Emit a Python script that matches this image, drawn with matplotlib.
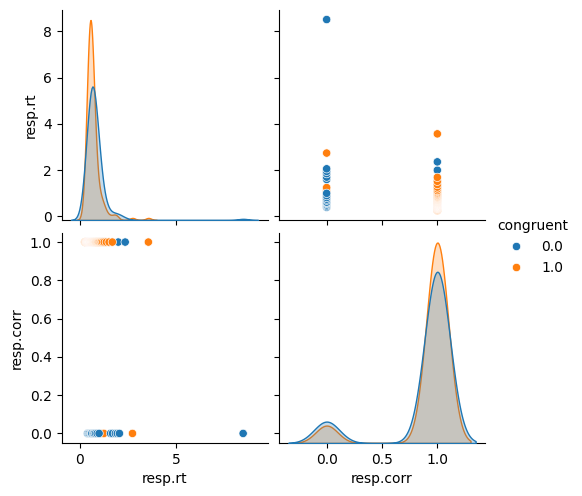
import matplotlib
matplotlib.use("Agg")
import matplotlib.pyplot as plt
import pandas as pd
import seaborn as sns

# Response times (s) by condition
rt_incongruent_correct = [
    0.31, 0.33, 0.35, 0.36, 0.38, 0.39,
    0.40, 0.41, 0.42, 0.43, 0.43, 0.44, 0.45, 0.45, 0.46, 0.47, 0.47, 0.48, 0.48, 0.49, 0.49, 0.49,
    0.50, 0.50, 0.51, 0.51, 0.52, 0.52, 0.53, 0.53, 0.54, 0.54, 0.55, 0.55, 0.55, 0.56, 0.56, 0.57,
    0.57, 0.57, 0.58, 0.58, 0.58, 0.59, 0.59, 0.59, 0.59,
    0.60, 0.60, 0.60, 0.61, 0.61, 0.61, 0.62, 0.62, 0.62, 0.63, 0.63, 0.63, 0.64, 0.64, 0.64, 0.65,
    0.65, 0.65, 0.66, 0.66, 0.66, 0.67, 0.67, 0.68, 0.68, 0.68, 0.69, 0.69, 0.69,
    0.70, 0.70, 0.71, 0.71, 0.72, 0.72, 0.73, 0.73, 0.74, 0.74, 0.75, 0.75, 0.76, 0.76, 0.77, 0.77,
    0.78, 0.78, 0.79, 0.79, 0.79, 0.79,
    0.80, 0.81, 0.81, 0.82, 0.82, 0.83, 0.84, 0.85, 0.86, 0.86, 0.87, 0.88, 0.89, 0.89,
    0.90, 0.91, 0.92, 0.93, 0.94, 0.95, 0.96, 0.98, 0.99,
    1.01, 1.04, 1.06, 1.09, 1.11, 1.14, 1.16, 1.18,
    1.22, 1.27, 1.31, 1.35,
    1.52, 2.00, 2.36,
]
rt_incongruent_error = [0.40, 0.45, 0.50, 0.56, 0.60, 0.62, 0.70, 0.75, 0.82, 0.90, 1.00,
                        1.60, 1.70, 1.85, 1.95, 2.06, 8.51]
rt_congruent_correct = [
    0.26, 0.28, 0.30, 0.32, 0.34,
    0.35, 0.36, 0.37, 0.37, 0.38, 0.38, 0.39, 0.39, 0.40, 0.40, 0.41, 0.41, 0.42, 0.42, 0.42, 0.43,
    0.43, 0.44, 0.44, 0.44,
    0.45, 0.45, 0.45, 0.46, 0.46, 0.46, 0.47, 0.47, 0.47, 0.48, 0.48, 0.48, 0.49, 0.49, 0.49, 0.50,
    0.50, 0.50, 0.50, 0.50, 0.51, 0.51, 0.51, 0.52, 0.52, 0.52, 0.52, 0.53, 0.53, 0.53, 0.53, 0.54,
    0.54, 0.54, 0.54, 0.54,
    0.55, 0.55, 0.55, 0.55, 0.56, 0.56, 0.56, 0.56, 0.57, 0.57, 0.57, 0.57, 0.58, 0.58, 0.58, 0.58,
    0.59, 0.59, 0.59, 0.60, 0.60, 0.60, 0.61, 0.61, 0.61, 0.62, 0.62, 0.62, 0.63, 0.63, 0.64, 0.64,
    0.64,
    0.65, 0.65, 0.66, 0.66, 0.67, 0.67, 0.68, 0.68, 0.69, 0.69, 0.70, 0.70, 0.71, 0.71, 0.72, 0.72,
    0.73, 0.74, 0.74,
    0.75, 0.76, 0.77, 0.78, 0.79, 0.80, 0.81, 0.82, 0.83, 0.84,
    0.86, 0.88, 0.91, 0.93, 0.96, 0.99,
    1.03, 1.08, 1.12, 1.19, 1.27,
    1.38, 1.52, 1.69,
    3.57,
]
rt_congruent_error = [0.48, 0.55, 0.62, 0.70, 0.78, 1.05, 1.10, 1.22, 1.25, 1.86, 1.90, 2.74]

groups = [
    (rt_incongruent_correct, 1.0, 0.0),
    (rt_congruent_correct, 1.0, 1.0),
    (rt_congruent_error, 0.0, 1.0),
    (rt_incongruent_error, 0.0, 0.0),
]
df = pd.concat(
    [pd.DataFrame({"resp.rt": rts, "resp.corr": corr, "congruent": cong})
     for rts, corr, cong in groups],
    ignore_index=True,
)

g = sns.pairplot(df, hue="congruent", vars=["resp.rt", "resp.corr"])
fig = g.figure
fig.set_size_inches(5.82, 4.96)
W, H = 582.0, 496.0

cols = [(61.5, 206.0), (279.0, 206.0)]
rows = [(10.0, 220.0), (232.5, 443.0)]
for i, (top, bot) in enumerate(rows):
    for j, (left, wid) in enumerate(cols):
        g.axes[i, j].set_position([left / W, 1 - bot / H, wid / W, (bot - top) / H])

sns.move_legend(g, "center", bbox_to_anchor=(533 / W, 1 - 247 / H), frameon=False)

fig.savefig("out.png", dpi=100)
